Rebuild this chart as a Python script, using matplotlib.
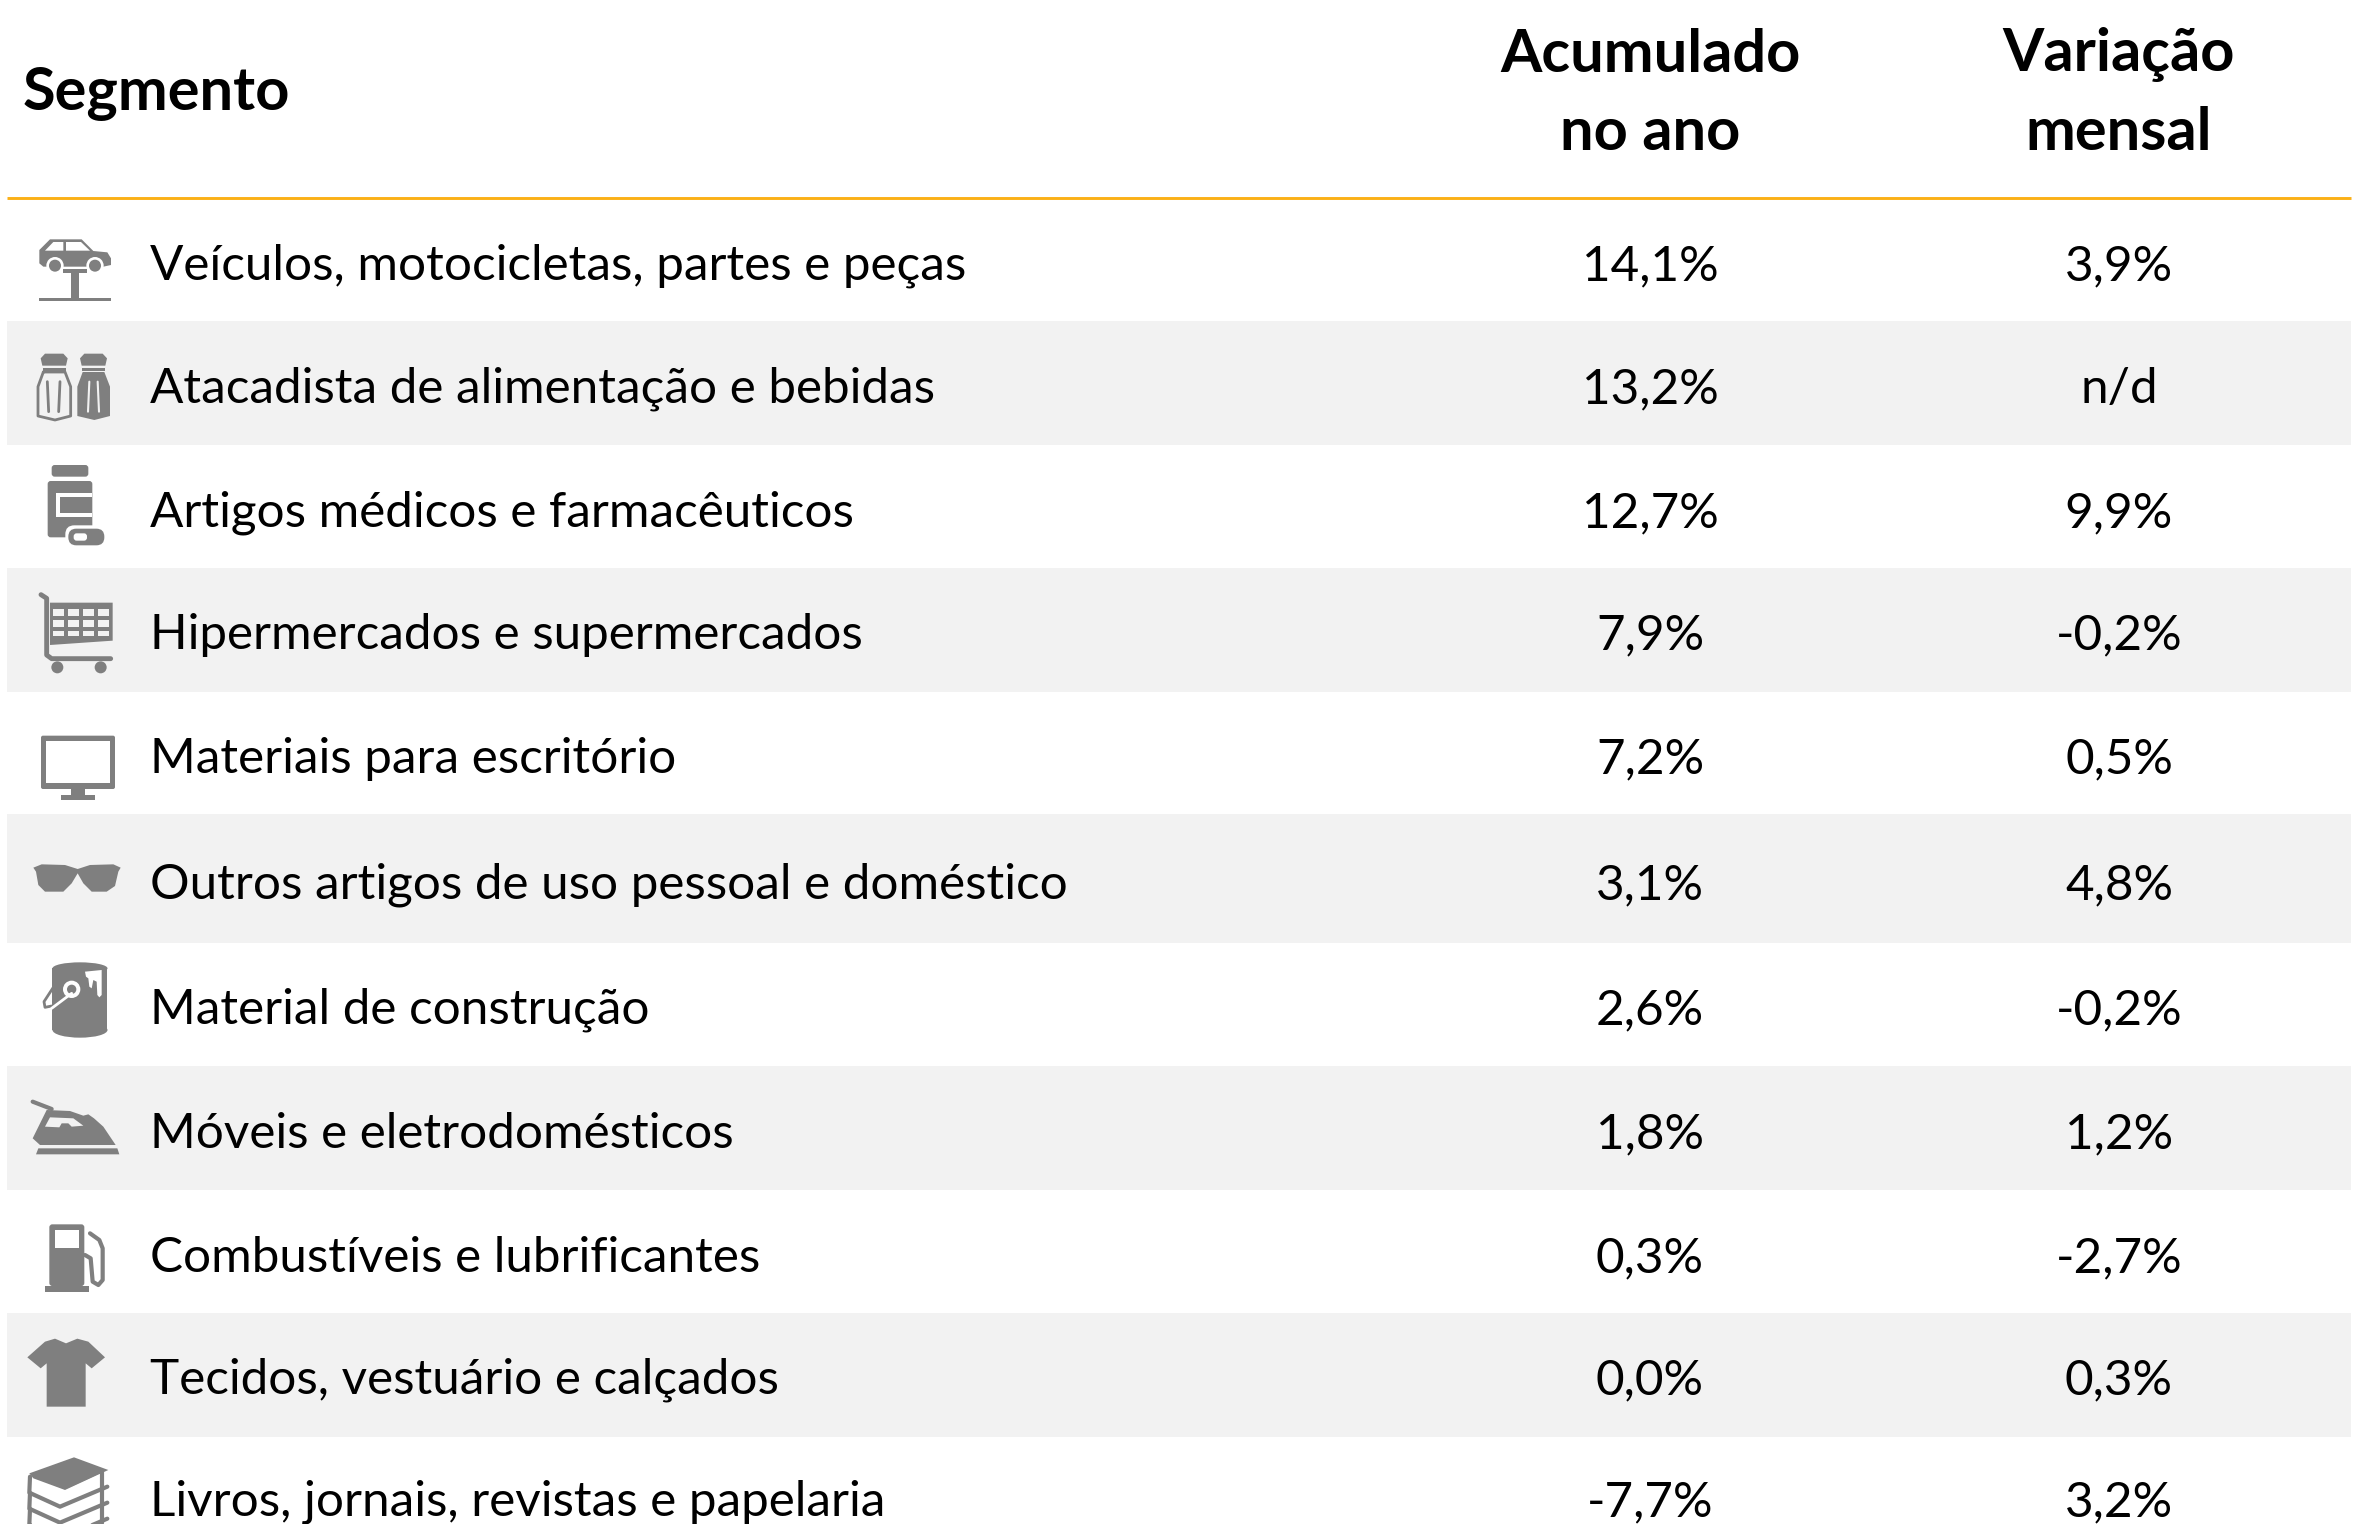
import matplotlib
matplotlib.use('Agg')
import matplotlib.pyplot as plt
from matplotlib.patches import Polygon, Circle, Ellipse, Rectangle, FancyBboxPatch

segmentos = ['Veículos, motocicletas, partes e peças', 'Atacadista de alimentação e bebidas',
             'Artigos médicos e farmacêuticos', 'Hipermercados e supermercados',
             'Materiais para escritório', 'Outros artigos de uso pessoal e doméstico',
             'Material de construção', 'Móveis e eletrodomésticos',
             'Combustíveis e lubrificantes', 'Tecidos, vestuário e calçados',
             'Livros, jornais, revistas e papelaria']
acumulado = ['14,1%', '13,2%', '12,7%', '7,9%', '7,2%', '3,1%', '2,6%', '1,8%', '0,3%', '0,0%', '-7,7%']
variacao = ['3,9%', 'n/d', '9,9%', '-0,2%', '0,5%', '4,8%', '-0,2%', '1,2%', '-2,7%', '0,3%', '3,2%']
row_y = [266, 389, 513, 635, 759, 885, 1010, 1134, 1258, 1380, 1502]
bands = [(321, 445), (568, 692), (814, 943), (1066, 1190), (1313, 1437)]

GRAY = '#7f7f7f'
BAND = '#f2f2f2'
FONT = 'Lato'
FS = 35.6
FS_HEAD = 42.8

fig = plt.figure(figsize=(23.65, 15.24), dpi=100)
ax = fig.add_axes([0, 0, 1, 1])
ax.set_xlim(0, 2365)
ax.set_ylim(1524, 0)
ax.axis('off')

for y0, y1 in bands:
    ax.add_patch(Rectangle((7, y0), 2344, y1 - y0, color=BAND, lw=0))
ax.plot([7, 2351], [198, 198], color='#fbb017', lw=2.1, solid_capstyle='butt')

ax.text(23, 94, 'Segmento', fontsize=FS_HEAD, fontweight='bold', family=FONT, va='center')
ax.text(1650, 55, 'Acumulado', fontsize=FS_HEAD, fontweight='bold', family=FONT, va='center', ha='center')
ax.text(1650, 133, 'no ano', fontsize=FS_HEAD, fontweight='bold', family=FONT, va='center', ha='center')
ax.text(2119, 55, 'Variação', fontsize=FS_HEAD, fontweight='bold', family=FONT, va='center', ha='center')
ax.text(2119, 133, 'mensal', fontsize=FS_HEAD, fontweight='bold', family=FONT, va='center', ha='center')

for i in range(len(segmentos)):
    ax.text(150, row_y[i], segmentos[i], fontsize=FS, family=FONT, va='center', color='black')
    ax.text(1650, row_y[i], acumulado[i], fontsize=FS, family=FONT, va='center', ha='center')
    ax.text(2119, row_y[i], variacao[i], fontsize=FS, family=FONT, va='center', ha='center')


# icon coordinates come from 3x crops, so everything is scaled by 1/3
def poly(pts, y0, color=GRAY, **kw):
    ax.add_patch(Polygon([(x / 3, y0 + y / 3) for x, y in pts], closed=True, fc=color, ec='none', **kw))


def rect(x0, y0_, x1, y1, y0, color=GRAY):
    poly([(x0, y0_), (x1, y0_), (x1, y1), (x0, y1)], y0, color)


def circ(x, y, r, y0, color=GRAY):
    ax.add_patch(Circle((x / 3, y0 + y / 3), r / 3, fc=color, ec='none'))


def line(pts, y0, lw=3, color=GRAY):
    ax.plot([p[0] / 3 for p in pts], [y0 + p[1] / 3 for p in pts], color=color, lw=lw, solid_capstyle='round')


# car on lift
poly([(118, 150), (150, 118), (245, 118), (280, 153), (322, 157), (333, 175), (333, 195), (310, 200), (130, 200), (118, 190)], 200)
poly([(135, 152), (160, 126), (190, 126), (190, 152)], 200, 'white')
poly([(198, 126), (243, 126), (270, 152), (198, 152)], 200, 'white')
for x in (165, 285):
    circ(x, 197, 26, 200, 'white')
    circ(x, 197, 18, 200)
rect(190, 208, 262, 218, 200)
rect(214, 218, 238, 296, 200)
rect(117, 295, 333, 304, 200)

# salt and pepper
for off, filled in ((0, False), (118, True)):
    poly([(122 + off, 475), (135 + off, 461), (190 + off, 461), (203 + off, 475), (198 + off, 497), (127 + off, 497)], 200)
    rect(128 + off, 503, 197 + off, 514, 200)
    body = [(130 + off, 516), (195 + off, 516), (212 + off, 560), (212 + off, 648), (165 + off, 660), (114 + off, 648), (114 + off, 560)]
    if filled:
        poly(body, 200)
        line([(150 + off, 545), (146 + off, 635)], 200, 1.5, BAND)
        line([(175 + off, 545), (179 + off, 635)], 200, 1.5, BAND)
    else:
        line(body + [body[0]], 200, 2)
        line([(142, 545), (146, 635)], 200, 2)
        line([(180, 545), (176, 635)], 200, 2)

# pill bottle
ax.add_patch(FancyBboxPatch((155 / 3 + 3, 200 + 795 / 3 + 3), 110 / 3 - 6, 35 / 3 - 6, boxstyle='round,pad=3', fc=GRAY, ec='none'))
ax.add_patch(FancyBboxPatch((143 / 3 + 3, 200 + 843 / 3 + 3), 134 / 3 - 6, 169 / 3 - 6, boxstyle='round,pad=3', fc=GRAY, ec='none'))
rect(167, 880, 277, 950, 200, 'white')
rect(180, 892, 277, 938, 200)
ax.add_patch(FancyBboxPatch((196 / 3 + 9, 200 + 976 / 3 + 9), 124 / 3 - 18, 68 / 3 - 18, boxstyle='round,pad=9', fc='white', ec='none'))
ax.add_patch(FancyBboxPatch((205 / 3 + 8, 200 + 986 / 3 + 8), 108 / 3 - 16, 50 / 3 - 16, boxstyle='round,pad=8', fc=GRAY, ec='none'))
ax.add_patch(FancyBboxPatch((221 / 3 + 3, 200 + 1000 / 3 + 3), 40 / 3 - 6, 22 / 3 - 6, boxstyle='round,pad=3', fc='white', ec='none'))

# cart
line([(123, 1184), (140, 1195), (140, 1365), (155, 1376), (332, 1376)], 200, 3.5)
poly([(150, 1208), (338, 1208), (338, 1322), (150, 1335)], 200)
for r in range(3):
    for c in range(4):
        xa = 158 + c * 45
        ya = 1226 + r * 33
        rect(xa, ya, xa + 34, ya + 22 - (6 if r == 2 else 0), 200, BAND)
circ(172, 1402, 18, 200)
circ(302, 1402, 18, 200)

# monitor
ax.add_patch(FancyBboxPatch((123 / 3 + 2, 700 + 107 / 3 + 2), 222 / 3 - 4, 160 / 3 - 4, boxstyle='round,pad=2', fc=GRAY, ec='none'))
rect(138, 123, 330, 248, 700, 'white')
rect(212, 267, 255, 285, 700)
rect(183, 285, 285, 300, 700)

# sunglasses
poly([(100, 503), (125, 493), (195, 495), (233, 507), (270, 495), (340, 493), (362, 503), (355, 515), (345, 558), (320, 575),
      (275, 575), (250, 550), (233, 520), (215, 550), (190, 575), (135, 575), (115, 555), (108, 515)], 700)

# paint bucket
rect(157, 805, 322, 990, 700)
ax.add_patch(Ellipse((240 / 3, 700 + 990 / 3), 165 / 3, 46 / 3, fc=GRAY, ec='none'))
ax.add_patch(Ellipse((240 / 3, 700 + 805 / 3), 165 / 3, 36 / 3, fc=GRAY, ec='none'))
poly([(255, 815), (305, 810), (305, 885), (298, 892), (292, 885), (290, 845), (280, 840), (275, 865), (268, 860), (265, 835), (258, 830)], 700, 'white')
line([(160, 862), (132, 905), (135, 922), (155, 918)], 700, 2, GRAY)
line([(215, 880), (155, 925)], 700, 2, 'white')
circ(215, 868, 26, 700, 'white')
circ(215, 868, 14, 700)

# iron, crop started at x=20, y=1085
line([(98, 50), (155, 72)], 1085, 3)
poly([(98, 160), (140, 75), (210, 78), (250, 92), (265, 88), (282, 100), (310, 125), (347, 180), (120, 180)], 1085)
poly([(135, 125), (150, 97), (220, 100), (250, 122), (215, 125), (205, 115), (185, 115), (178, 127)], 1085, BAND)
poly([(115, 190), (352, 190), (358, 208), (108, 208)], 1085)

# fuel pump
ax.add_patch(FancyBboxPatch((148 / 3 + 3, 1120 + 313 / 3 + 3), 105 / 3 - 6, 185 / 3 - 6, boxstyle='round,pad=3', fc=GRAY, ec='none'))
rect(165, 330, 238, 385, 1120, 'white')
rect(136, 497, 267, 515, 1120)
line([(270, 340), (298, 360), (308, 385), (308, 480), (295, 495), (278, 485), (272, 415), (255, 405)], 1120, 3)

# t-shirt
poly([(82, 712), (135, 665), (165, 656), (198, 670), (232, 656), (265, 665), (315, 712), (275, 745), (257, 730), (257, 860), (140, 860), (140, 730), (122, 745)], 1120)

# books
poly([(88, 1060), (222, 1012), (325, 1050), (195, 1110), (100, 1075)], 1120)
for dy in (0, 48, 96):
    poly([(100, 1078 + dy), (195, 1112 + dy), (302, 1062 + dy), (302, 1098 + dy), (180, 1138 + dy), (100, 1106 + dy)], 1120, 'white')
    line([(90, 1070 + dy), (88, 1118 + dy), (180, 1160 + dy), (322, 1100 + dy)], 1120, 3)
line([(305, 1055), (305, 1210)], 1120, 3)

fig.savefig('out.png', dpi=100)
